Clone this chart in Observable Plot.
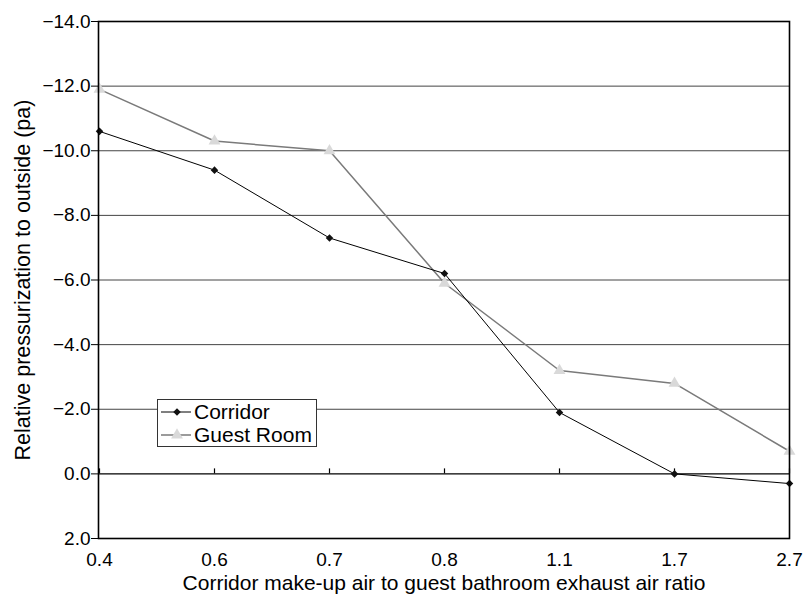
<!DOCTYPE html>
<html>
<head>
<meta charset="utf-8">
<script src="https://cdn.jsdelivr.net/npm/d3@7"></script>
<script src="https://cdn.jsdelivr.net/npm/@observablehq/plot@0.6"></script>
<style>
  body { margin: 0; background: #fff; font-family: "Liberation Sans", Arial, sans-serif; }
  #wrap { position: relative; width: 805px; height: 594px; }
  #legend { position: absolute; left: 157px; top: 399px; width: 158px; height: 46px;
            border: 1.5px solid #333; background: #fff; box-sizing: content-box; }
  .row { display: flex; align-items: center; height: 23px; font-size: 21px; line-height: 21px; color: #000; }
  .row svg { display: block; margin-left: 3px; margin-right: 3px; }
</style>
</head>
<body>
<div id="wrap"><div id="legend"></div></div>
<script>
// ---- data ----
const ratios = ["0.4", "0.6", "0.7", "0.8", "1.1", "1.7", "2.7"];
const corridor = [-10.6, -9.4, -7.3, -6.2, -1.9, 0.0, 0.3];
const guestRoom = [-11.9, -10.3, -10.0, -5.9, -3.2, -2.8, -0.7];
const yTicks = [2, 0, -2, -4, -6, -8, -10, -12, -14];
const seriesNames = ["Corridor", "Guest Room"];
const xTitle = "Corridor make-up air to guest bathroom exhaust air ratio";
const yTitle = "Relative pressurization to outside (pa)";

const corridorRows = ratios.map((r, i) => ({ratio: r, value: corridor[i], series: seriesNames[0]}));
const guestRows = ratios.map((r, i) => ({ratio: r, value: guestRoom[i], series: seriesNames[1]}));

const styles = {
  [seriesNames[0]]: {line: "#000", lineWidth: 1, symbol: "diamond2", fill: "#111", r: 3.4},
  [seriesNames[1]]: {line: "#7a7a7a", lineWidth: 1.5, symbol: "triangle", fill: "#d9d9d9", r: 4.4}
};

const chart = Plot.plot({
  width: 805,
  height: 594,
  marginLeft: 98,
  marginRight: 16,
  marginTop: 21,
  marginBottom: 56,
  style: {fontFamily: "Liberation Sans, Arial, sans-serif", fontSize: "19px", color: "#000", background: "#fff"},
  x: {type: "point", domain: ratios, padding: 0},
  y: {domain: [2, -14]},
  marks: [
    Plot.ruleY(yTicks.filter(t => t !== 0 && t !== 2 && t !== -14), {stroke: "#444", strokeWidth: 1}),
    Plot.ruleY([0], {stroke: "#000", strokeWidth: 1.4}),
    Plot.ruleX(ratios, {x: d => d, y1: 0, y2: 0, insetTop: -5, stroke: "#000", strokeWidth: 1.2}),
    Plot.line(guestRows, {x: "ratio", y: "value", stroke: styles[seriesNames[1]].line, strokeWidth: styles[seriesNames[1]].lineWidth}),
    Plot.dot(guestRows, {x: "ratio", y: "value", symbol: styles[seriesNames[1]].symbol, fill: styles[seriesNames[1]].fill, r: styles[seriesNames[1]].r}),
    Plot.line(corridorRows, {x: "ratio", y: "value", stroke: styles[seriesNames[0]].line, strokeWidth: styles[seriesNames[0]].lineWidth}),
    Plot.dot(corridorRows, {x: "ratio", y: "value", symbol: styles[seriesNames[0]].symbol, fill: styles[seriesNames[0]].fill, r: styles[seriesNames[0]].r}),
    Plot.frame({stroke: "#000", strokeWidth: 1.6}),
    Plot.axisY(yTicks, {tickFormat: d3.format(".1f"), tickSize: 7, tickPadding: 1, label: null, stroke: "#000", fontSize: 19}),
    Plot.axisX({tickSize: 0, tickPadding: 14, label: null, fontSize: 19}),
    Plot.text([yTitle], {frameAnchor: "left", dx: -75, rotate: -90, textAnchor: "middle", lineAnchor: "middle", fontSize: 21.5, fill: "#000"}),
    Plot.text([xTitle], {frameAnchor: "bottom", dy: 45, textAnchor: "middle", lineAnchor: "middle", fontSize: 21, fill: "#000"})
  ]
});

const wrap = document.getElementById("wrap");
wrap.insertBefore(chart, wrap.firstChild);

// legend
const legend = d3.select("#legend");
seriesNames.forEach(name => {
  const s = styles[name];
  const row = legend.append("div").attr("class", "row");
  const svg = row.append("svg").attr("width", 30).attr("height", 20);
  svg.append("line").attr("x1", 0).attr("x2", 30).attr("y1", 10).attr("y2", 10)
     .attr("stroke", s.line).attr("stroke-width", s.lineWidth);
  const sym = s.symbol === "triangle" ? d3.symbolTriangle : (d3.symbolDiamond2 || d3.symbolDiamond);
  svg.append("path").attr("transform", "translate(16,10)")
     .attr("d", d3.symbol(sym, Math.PI * s.r * s.r)()).attr("fill", s.fill);
  row.append("span").text(name);
});
</script>
</body>
</html>
